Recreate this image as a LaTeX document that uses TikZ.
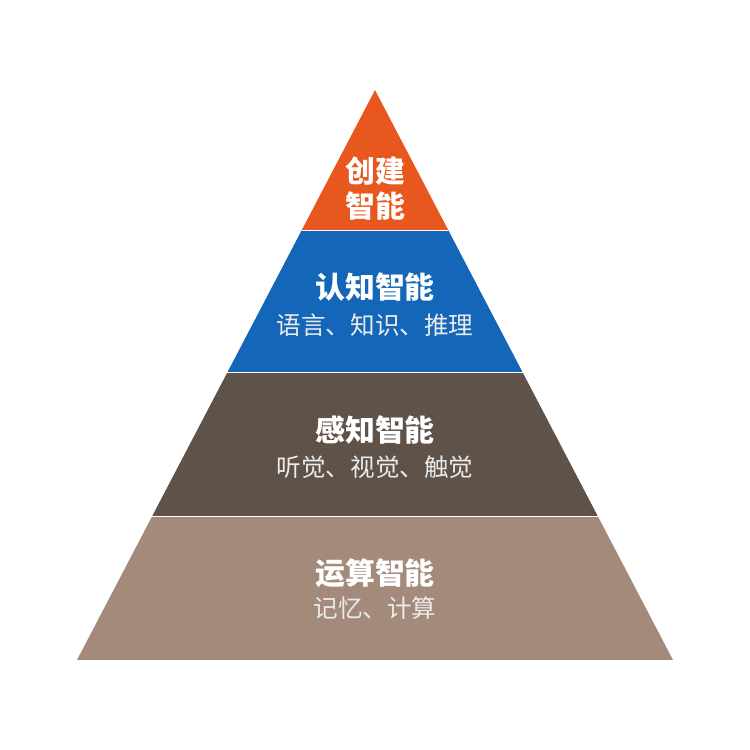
\documentclass[tikz,border=0pt]{standalone}
\usepackage{fontspec}
\newfontfamily\cjk{Noto Sans CJK SC}
\usepackage{xcolor}
\usepackage{tikz}
\usetikzlibrary{calc, positioning}

\definecolor{createorange}{HTML}{E8581E}
\definecolor{cogblue}{HTML}{1467B8}
\definecolor{percbrown}{HTML}{5F5248}
\definecolor{compbrown}{HTML}{A38A7A}

\begin{document}
\begin{tikzpicture}[
  layer/.style = {draw=white, line width=0.6pt},
  title/.style = {text=white, font=\cjk\bfseries\fontsize{17pt}{20pt}\selectfont, align=center, inner sep=0pt},
  sub/.style   = {text=white!92!black, font=\cjk\fontsize{14pt}{16pt}\selectfont, inner sep=0pt}
]
\useasboundingbox (0,0) rectangle (15,15);

\coordinate (apex) at (7.5,13.2);
\coordinate (bl) at (1.54,1.8);
\coordinate (br) at (13.46,1.8);

% layer corners
\coordinate (l1) at ($(apex)!0.246!(bl)$);
\coordinate (r1) at ($(apex)!0.246!(br)$);
\coordinate (l2) at ($(apex)!0.496!(bl)$);
\coordinate (r2) at ($(apex)!0.496!(br)$);
\coordinate (l3) at ($(apex)!0.749!(bl)$);
\coordinate (r3) at ($(apex)!0.749!(br)$);

% layers
\fill[compbrown]   (l3) -- (r3) -- (br) -- (bl) -- cycle;
\fill[percbrown]   (l2) -- (r2) -- (r3) -- (l3) -- cycle;
\fill[cogblue]     (l1) -- (r1) -- (r2) -- (l2) -- cycle;
\fill[createorange] (apex) -- (r1) -- (l1) -- cycle;
\draw[layer] (l1) -- (r1);
\draw[layer] (l2) -- (r2);
\draw[layer] (l3) -- (r3);

% labels
\node[title] (create) at (7.5,11.22) {创建\\智能};
\node[title] (cog) at (7.5,9.26) {认知智能};
\node[sub, below=0.76cm of cog.center, anchor=center] (cogsub) {语言、知识、推理};
\node[title] (perc) at (7.5,6.4) {感知智能};
\node[sub, below=0.74cm of perc.center, anchor=center] (percsub) {听觉、视觉、触觉};
\node[title] (comp) at (7.5,3.54) {运算智能};
\node[sub, below=0.7cm of comp.center, anchor=center] (compsub) {记忆、计算};
\end{tikzpicture}
\end{document}
